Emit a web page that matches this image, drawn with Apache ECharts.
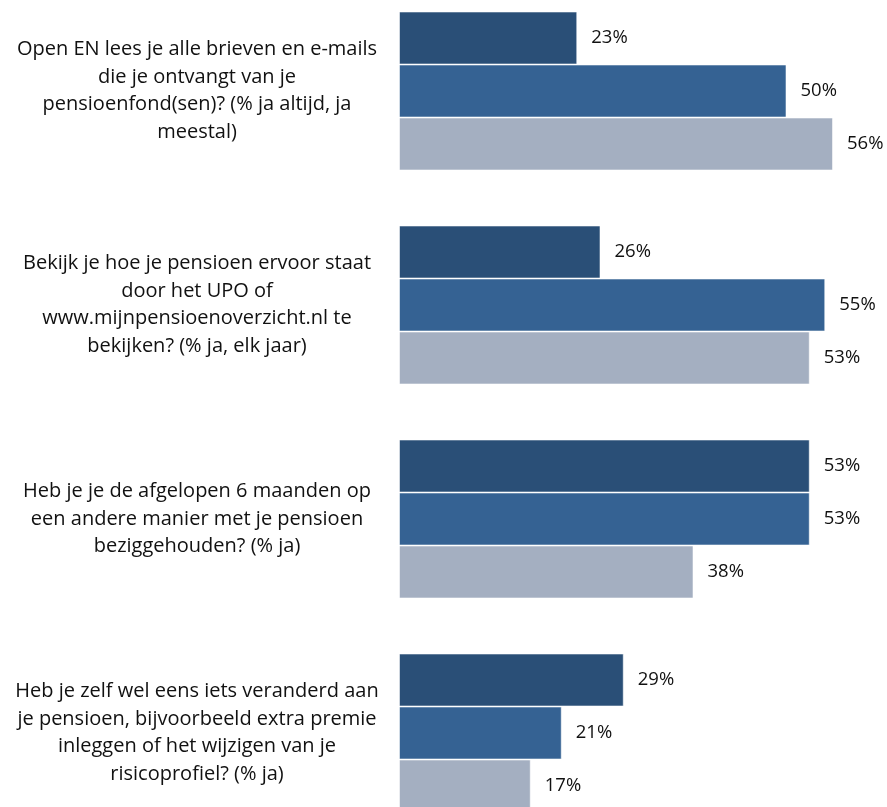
<!DOCTYPE html>
<html><head><meta charset="utf-8">
<script src="https://cdn.jsdelivr.net/npm/echarts@6/dist/echarts.min.js"></script>
<style>html,body{margin:0;padding:0;background:#fff;overflow:hidden;width:887px;height:807px;}#c{width:887px;height:872px;margin-top:-16px;}</style>
</head><body><div id="c"></div>
<script>
const categories = [
  "Open EN lees je alle brieven en e-mails\ndie je ontvangt van je\npensioenfond(sen)? (% ja altijd, ja\nmeestal)",
  "Bekijk je hoe je pensioen ervoor staat\ndoor het UPO of\nwww.mijnpensioenoverzicht.nl te\nbekijken? (% ja, elk jaar)",
  "Heb je je de afgelopen 6 maanden op\neen andere manier met je pensioen\nbeziggehouden? (% ja)",
  "Heb je zelf wel eens iets veranderd aan\nje pensioen, bijvoorbeeld extra premie\ninleggen of het wijzigen van je\nrisicoprofiel? (% ja)"
];
const series1 = [23, 26, 53, 29];
const series2 = [50, 55, 53, 21];
const series3 = [56, 53, 38, 17];
const seriesNames = ["Reeks 1", "Reeks 2", "Reeks 3"];
const colors = ["#2A4F77", "#356293", "#A4AFC1"];

const chart = echarts.init(document.getElementById('c'));
const mk = (name, data, color) => ({
  name, type: 'bar', data, barWidth: 53, barGap: '0%',
  itemStyle: { color, borderColor: 'rgba(255,255,255,0.55)', borderWidth: 1 },
  label: { show: true, position: 'right', distance: 14, formatter: '{c}%',
    fontFamily: 'Open Sans', fontSize: 18.5, color: '#111' }
});
chart.setOption({
  animation: false,
  grid: { left: 399, right: 23, top: 0, height: 856, containLabel: false },
  xAxis: { type: 'value', min: 0, max: 60, show: false },
  yAxis: { type: 'category', data: categories, inverse: true,
    axisLine: { show: false }, axisTick: { show: false },
    axisLabel: { margin: 202, align: 'center', fontFamily: 'Open Sans', fontSize: 20,
      lineHeight: 27.5, color: '#111' } },
  series: [mk(seriesNames[0], series1, colors[0]), mk(seriesNames[1], series2, colors[1]), mk(seriesNames[2], series3, colors[2])]
});
</script></body></html>
